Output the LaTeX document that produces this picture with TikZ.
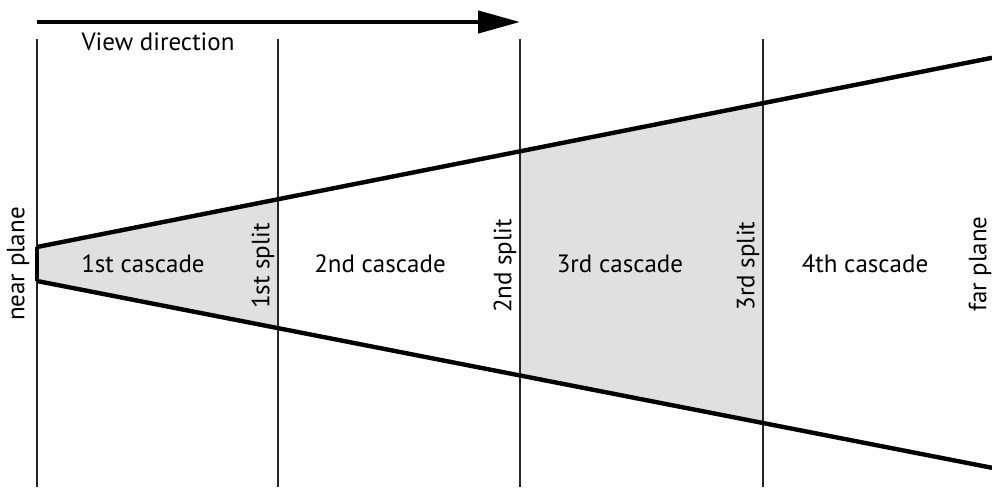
\documentclass[tikz,border=0pt]{standalone}
\usepackage{fontspec}
\setmainfont{PT Sans}
\usetikzlibrary{arrows.meta}
\tikzset{
  split/.style={line width=2.2pt, draw=black!85},
  frustum/.style={line width=4.4pt, draw=black},
  lbl/.style={font=\fontsize{25}{30}\selectfont, inner sep=0pt, anchor=center},
  rlbl/.style={lbl, rotate=90},
  shade/.style={fill=black!12, draw=none}
}
\begin{document}
\begin{tikzpicture}[x=1pt,y=-1pt]
\useasboundingbox (0,0) rectangle (992,487);
% frustum corners
\coordinate (nt) at (37,247);
\coordinate (nb) at (37,281);
\coordinate (ft) at (992,57.8);
\coordinate (fb) at (992,467.8);
% split lines
\coordinate (s0t) at (37,39);   \coordinate (s0b) at (37,487);
\coordinate (s1t) at (278,39);  \coordinate (s1b) at (278,487);
\coordinate (s2t) at (520,39);  \coordinate (s2b) at (520,487);
\coordinate (s3t) at (763,39);  \coordinate (s3b) at (763,487);
% intersections
\coordinate (t1) at (intersection of nt--ft and s1t--s1b);
\coordinate (b1) at (intersection of nb--fb and s1t--s1b);
\coordinate (t2) at (intersection of nt--ft and s2t--s2b);
\coordinate (b2) at (intersection of nb--fb and s2t--s2b);
\coordinate (t3) at (intersection of nt--ft and s3t--s3b);
\coordinate (b3) at (intersection of nb--fb and s3t--s3b);
% shaded cascades
\fill[shade] (nt) -- (t1) -- (b1) -- (nb) -- cycle;
\fill[shade] (t2) -- (t3) -- (b3) -- (b2) -- cycle;
% split lines
\draw[split] (s0t) -- (s0b);
\draw[split] (s1t) -- (s1b);
\draw[split] (s2t) -- (s2b);
\draw[split] (s3t) -- (s3b);
% frustum
\draw[frustum] (nt) -- (ft);
\draw[frustum] (nb) -- (fb);
\draw[frustum] (nt) -- (nb);
% view direction arrow
\coordinate (a0) at (37,22);
\coordinate (a1) at (520,22);
\draw[line width=4.4pt, -{Triangle[length=42pt,width=22pt]}] (a0) -- (a1);
\node[lbl] (vd) at (158,42) {View direction};
% labels
\node[rlbl] (np) at (18,264) {near plane};
\node[lbl] (c1) at (143,264) {1st cascade};
\node[rlbl] (sp1) at (263,266) {1st split};
\node[lbl] (c2) at (380,264) {2nd cascade};
\node[rlbl] (sp2) at (505,266) {2nd split};
\node[lbl] (c3) at (620,264) {3rd cascade};
\node[rlbl] (sp3) at (748,266) {3rd split};
\node[lbl] (c4) at (865,264) {4th cascade};
\node[rlbl] (fp) at (980,264) {far plane};
\end{tikzpicture}
\end{document}
